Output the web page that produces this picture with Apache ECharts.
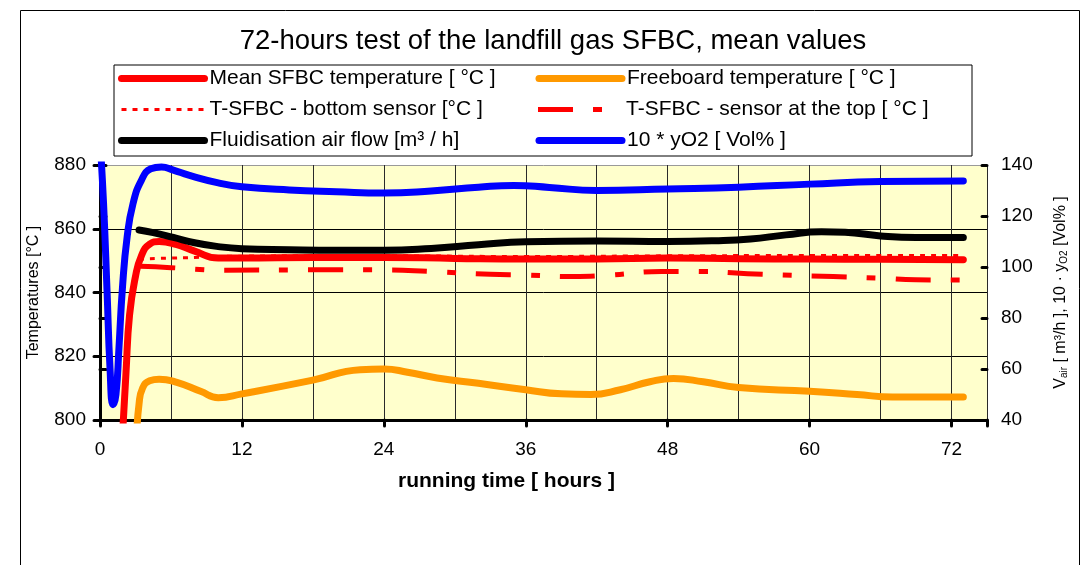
<!DOCTYPE html>
<html>
<head>
<meta charset="utf-8">
<script src="https://cdn.jsdelivr.net/npm/echarts@6/dist/echarts.min.js"></script>
<style>
html,body{margin:0;padding:0;background:#fff;}
#c{width:1088px;height:565px;}
</style>
</head>
<body>
<div id="c"></div>
<script>
// ---- data (running time [h], value) ----
const titleText = '72-hours test of the landfill gas SFBC, mean values';
const xTicks = [0, 12, 24, 36, 48, 60, 72];
const leftTicks = [800, 820, 840, 860, 880];
const rightTicks = [40, 60, 80, 100, 120, 140];
const seriesNames = [
  'Mean SFBC temperature [ °C ]',
  'Freeboard temperature [ °C ]',
  'T-SFBC - bottom sensor [°C ]',
  'T-SFBC - sensor at the top [ °C ]',
  'Fluidisation air flow [m³ / h]',
  '10 * yO2 [ Vol% ]'
];
const meanSfbc = [[1.9,795],[2.2,815],[2.5,833],[3.0,845],[3.5,851.5],[4.2,855.2],[5.0,856],[6.5,855],[8.0,853],[10,850.8],[12,850.8],[18,851],[24,851],[30,850.7],[36,850.5],[42,850.5],[48,850.8],[54,850.6],[60,850.5],[66,850.4],[73,850.3]];
const freeboard = [[3.1,795],[3.3,805],[3.6,810],[4.2,812.3],[5.0,812.8],[6.5,811.8],[8.5,809],[10,807],[12,808.2],[18,812.5],[22,815.8],[24,816],[26,815],[28.5,813.2],[32,811.5],[36,809.5],[39,808.2],[41.5,808],[44,809.5],[46.5,812],[48.5,813],[51,812],[54,810.2],[60,809],[64,808],[67,807.2],[73,807.2]];
const bottomSensor = [[3.3,850.5],[6,850.8],[8,851],[10,851.3],[18,851.5],[24,851.5],[36,851.3],[48,851.5],[60,851.6],[73,851.6]];
const topSensor = [[3.4,848.2],[6,847.8],[8,847.3],[10,847],[18,847.1],[24,847.1],[28,846.6],[33,845.7],[36,845.5],[40,845],[43,845.4],[47.5,846.6],[50,846.6],[56,845.7],[62,845],[66,844.5],[69,844],[73,843.9]];
const airFlow = [[3.3,114.5],[4.5,113.5],[6.2,111.6],[8,109.5],[10,108],[12,107.2],[16,106.8],[20,106.6],[24,106.6],[28,107.3],[32,108.7],[36,109.9],[42,110.2],[48,110],[52,110.3],[55,111],[58,112.6],[61,113.8],[63,113.6],[66,112.2],[69,111.6],[73,111.6]];
const oxygen10 = [[0,150],[0.3,125],[0.6,90],[0.85,60],[1.1,46],[1.35,50],[1.6,68],[1.9,92],[2.3,112],[2.8,125],[3.5,134],[4.3,138.5],[5.2,139.2],[6.2,138],[7.5,136],[10,133],[12,131.5],[16,130.2],[20,129.5],[24,129],[28,129.8],[32,131.3],[35,132],[38,131.2],[42,130],[48,130.6],[54,131.3],[60,132.5],[66,133.5],[73,133.7]];

const FONT = "'Liberation Sans', Arial, sans-serif";
const chart = echarts.init(document.getElementById('c'), null, {renderer: 'canvas'});

function lineSeries(name, data, yIdx, color, width, type, cap, z) {
  return {
    name: name, type: 'line', data: data, xAxisIndex: 0, yAxisIndex: yIdx,
    smooth: 0.5, symbol: 'none', showSymbol: false,
    clip: true, z: z,
    lineStyle: {color: color, width: width, type: type, cap: cap, join: 'round'},
    itemStyle: {color: color},
    emphasis: {disabled: true}
  };
}

const option = {
  animation: false,
  backgroundColor: '#fff',
  textStyle: {fontFamily: FONT, color: '#000'},
  title: {
    text: titleText, left: 553, top: 27, textAlign: 'center', padding: 0,
    textStyle: {fontFamily: FONT, fontSize: 27.5, fontWeight: 'normal', color: '#000'}
  },
  legend: {
    data: seriesNames, left: 114, top: 65, width: 835, orient: 'horizontal',
    itemWidth: 83, itemHeight: 14, itemGap: 10,
    padding: [3, 29, 5, 4], borderColor: '#000', borderWidth: 1, backgroundColor: '#fff',
    selectedMode: false,
    itemStyle: {opacity: 0},
    lineStyle: {width: 'inherit'},
    textStyle: {fontFamily: FONT, fontSize: 21, color: '#000', width: 316, lineHeight: 21}
  },
  grid: {left: 100, right: 101, top: 165, bottom: 145, show: true, backgroundColor: '#FFFFCC', borderWidth: 0},
  xAxis: [
    {type: 'value', min: 0, max: 75, interval: 6, position: 'bottom',
     axisLine: {show: true, lineStyle: {color: '#000', width: 3}},
     axisTick: {show: false}, axisLabel: {show: false},
     splitLine: {show: true, lineStyle: {color: '#2a2a2a', width: 1}}},
    {type: 'value', min: 0, max: 75, interval: 12, position: 'bottom',
     axisLine: {show: false},
     axisTick: {show: true, length: 6, lineStyle: {color: '#000', width: 3, cap: 'round'}},
     axisLabel: {show: true, margin: 20, fontFamily: FONT, fontSize: 19, color: '#000',
       formatter: function (v) { return xTicks.indexOf(v) >= 0 ? String(v) : ''; }},
     splitLine: {show: false}}
  ],
  yAxis: [
    {type: 'value', min: leftTicks[0], max: leftTicks[leftTicks.length - 1], interval: 20, position: 'left',
     name: 'Temperatures [°C ]', nameLocation: 'middle', nameRotate: 90, nameGap: 58,
     nameTextStyle: {fontFamily: FONT, fontSize: 16, color: '#000'},
     axisLine: {show: true, lineStyle: {color: '#000', width: 3}},
     axisTick: {show: true, length: 6, lineStyle: {color: '#000', width: 3, cap: 'round'}},
     axisLabel: {margin: 14, fontFamily: FONT, fontSize: 19, color: '#000'},
     splitLine: {show: true, lineStyle: {color: ['#000', '#000', '#000', '#000', '#999'], width: 1}}},
    {type: 'value', min: rightTicks[0], max: rightTicks[rightTicks.length - 1], interval: 20, position: 'right',
     name: '{n|V}{s|air}{n| [ m³/h ], 10 · y}{s|O2}{n| [Vol% ]}',
     nameLocation: 'middle', nameRotate: 90, nameGap: 66,
     nameTextStyle: {fontFamily: FONT, fontSize: 16, color: '#000',
       rich: {
         n: {fontFamily: FONT, fontSize: 16, color: '#000', lineHeight: 16, verticalAlign: 'top'},
         s: {fontFamily: FONT, fontSize: 10, color: '#000', lineHeight: 10, verticalAlign: 'bottom', padding: [8, 0, 0, 0]}
       }},
     axisLine: {show: true, lineStyle: {color: '#000', width: 3}},
     axisTick: {show: true, length: 6, lineStyle: {color: '#000', width: 3, cap: 'round'}},
     axisLabel: {margin: 14, fontFamily: FONT, fontSize: 19, color: '#000'},
     splitLine: {show: false}},
    {type: 'value', min: rightTicks[0], max: rightTicks[rightTicks.length - 1], interval: 20, position: 'right',
     axisLine: {show: false},
     axisTick: {show: true, inside: true, length: 5, lineStyle: {color: '#000', width: 3, cap: 'round'}},
     axisLabel: {show: false}, splitLine: {show: false}}
  ],
  series: [
    lineSeries(seriesNames[0], meanSfbc, 0, '#FF0000', 7, 'solid', 'round', 2),
    lineSeries(seriesNames[1], freeboard, 0, '#FF9900', 7, 'solid', 'round', 2),
    lineSeries(seriesNames[2], bottomSensor, 0, '#FF0000', 3, [5, 6], 'butt', 3),
    lineSeries(seriesNames[3], topSensor, 0, '#FF0000', 5, [35, 20, 9, 20], 'butt', 3),
    lineSeries(seriesNames[4], airFlow, 1, '#000000', 7, 'solid', 'round', 4),
    lineSeries(seriesNames[5], oxygen10, 1, '#0000FF', 7, 'solid', 'round', 5)
  ],
  graphic: [
    {type: 'rect', shape: {x: 20.5, y: 10.5, width: 1059, height: 600}, style: {fill: null, stroke: '#000', lineWidth: 1}, z: 100, silent: true},
    {type: 'text', left: 398, top: 471, style: {text: 'running time [ hours ]', font: 'bold 21px ' + FONT, fill: '#000'}, silent: true}
  ]
};
chart.setOption(option);
</script>
</body>
</html>
